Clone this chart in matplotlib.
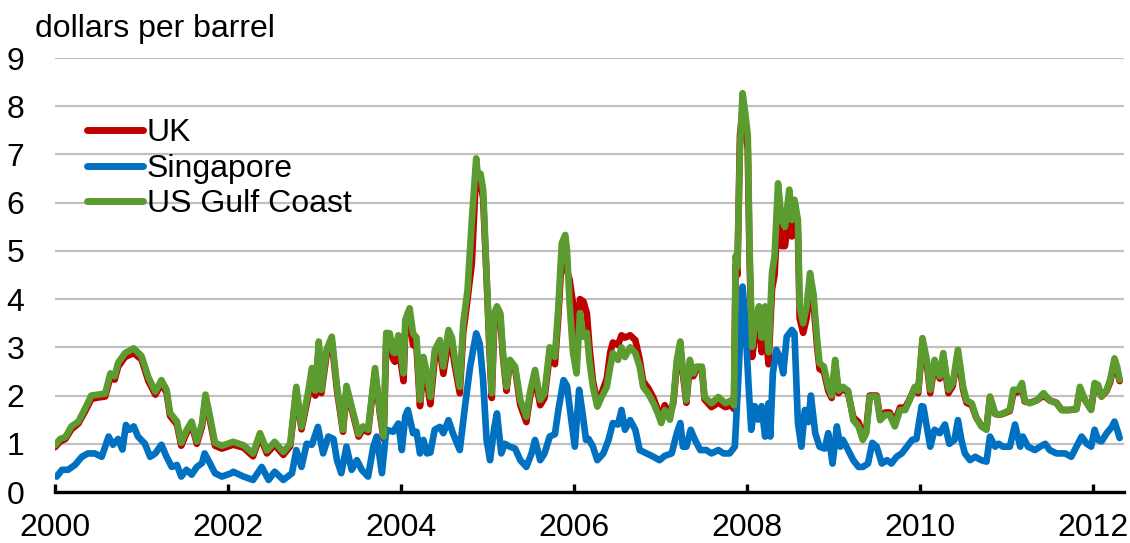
import matplotlib
matplotlib.use("Agg")
import matplotlib.pyplot as plt

plt.rcParams['font.family'] = ['Liberation Sans', 'DejaVu Sans']

# ---- data ----
gulf_dates = [
    2000.00, 2000.06, 2000.12, 2000.19, 2000.27, 2000.35, 2000.42, 2000.50, 2000.58, 2000.64,
    2000.69, 2000.73, 2000.81, 2000.91, 2001.00, 2001.08, 2001.16, 2001.23, 2001.29, 2001.33,
    2001.41, 2001.46, 2001.52, 2001.58, 2001.64, 2001.70, 2001.74, 2001.79, 2001.85, 2001.93,
    2002.06, 2002.18, 2002.29, 2002.37, 2002.45, 2002.54, 2002.64, 2002.72, 2002.79, 2002.85,
    2002.93, 2002.97, 2003.01, 2003.05, 2003.08, 2003.14, 2003.20, 2003.26, 2003.33, 2003.37,
    2003.45, 2003.51, 2003.56, 2003.62, 2003.70, 2003.76, 2003.80, 2003.83, 2003.87, 2003.91,
    2003.93, 2003.97, 2004.03, 2004.05, 2004.10, 2004.14, 2004.18, 2004.22, 2004.26, 2004.30,
    2004.34, 2004.39, 2004.45, 2004.49, 2004.55, 2004.59, 2004.62, 2004.68, 2004.72, 2004.77,
    2004.82, 2004.87, 2004.89, 2004.92, 2004.95, 2004.99, 2005.02, 2005.05, 2005.08, 2005.11,
    2005.15, 2005.18, 2005.22, 2005.26, 2005.32, 2005.38, 2005.45, 2005.49, 2005.55, 2005.61,
    2005.66, 2005.72, 2005.78, 2005.82, 2005.86, 2005.90, 2005.92, 2005.95, 2005.99, 2006.03,
    2006.07, 2006.11, 2006.15, 2006.18, 2006.22, 2006.27, 2006.32, 2006.38, 2006.42, 2006.45,
    2006.51, 2006.55, 2006.59, 2006.65, 2006.71, 2006.76, 2006.80, 2006.86, 2006.92, 2006.97,
    2007.01, 2007.05, 2007.11, 2007.15, 2007.19, 2007.23, 2007.26, 2007.30, 2007.34, 2007.38,
    2007.42, 2007.48, 2007.51, 2007.59, 2007.67, 2007.75, 2007.82, 2007.85, 2007.87, 2007.89,
    2007.92, 2007.95, 2007.98, 2008.01, 2008.03, 2008.06, 2008.10, 2008.14, 2008.17, 2008.21,
    2008.25, 2008.29, 2008.32, 2008.36, 2008.40, 2008.44, 2008.49, 2008.52, 2008.55, 2008.59,
    2008.61, 2008.65, 2008.69, 2008.73, 2008.77, 2008.81, 2008.84, 2008.89, 2008.94, 2008.98,
    2009.02, 2009.06, 2009.11, 2009.17, 2009.23, 2009.29, 2009.34, 2009.38, 2009.42, 2009.50,
    2009.54, 2009.60, 2009.65, 2009.71, 2009.77, 2009.83, 2009.88, 2009.94, 2009.98, 2010.03,
    2010.08, 2010.12, 2010.17, 2010.23, 2010.27, 2010.33, 2010.38, 2010.44, 2010.50, 2010.54,
    2010.60, 2010.65, 2010.71, 2010.77, 2010.81, 2010.87, 2010.91, 2010.96, 2011.04, 2011.08,
    2011.14, 2011.18, 2011.21, 2011.27, 2011.35, 2011.43, 2011.50, 2011.58, 2011.64, 2011.73,
    2011.81, 2011.85, 2011.91, 2011.98, 2012.02, 2012.06, 2012.10, 2012.16, 2012.20, 2012.25,
    2012.28, 2012.31,
]

us_gulf = [
    0.97, 1.10, 1.14, 1.36, 1.46, 1.74, 2.00, 2.02, 2.04, 2.46,
    2.40, 2.68, 2.88, 2.98, 2.82, 2.38, 2.08, 2.32, 2.12, 1.64,
    1.46, 1.02, 1.28, 1.46, 1.05, 1.42, 2.02, 1.58, 1.02, 0.96,
    1.04, 0.97, 0.80, 1.22, 0.86, 1.04, 0.83, 1.00, 2.18, 1.35,
    2.10, 2.57, 2.10, 3.12, 2.12, 2.95, 3.22, 2.20, 1.29, 2.20,
    1.63, 1.20, 1.36, 1.29, 2.57, 1.63, 1.15, 3.30, 3.29, 2.90,
    2.88, 3.25, 2.46, 3.57, 3.81, 3.29, 3.20, 1.91, 2.80, 2.46,
    1.97, 2.94, 3.15, 2.60, 3.36, 3.20, 2.80, 2.18, 3.50, 4.19,
    5.64, 6.92, 6.54, 6.60, 6.27, 4.54, 3.20, 2.05, 3.71, 3.85,
    3.70, 2.88, 2.18, 2.74, 2.60, 1.91, 1.56, 2.05, 2.53, 1.91,
    2.05, 3.00, 2.80, 3.84, 5.16, 5.33, 5.00, 3.90, 2.88, 2.46,
    3.71, 3.22, 3.30, 2.70, 2.18, 1.77, 1.97, 2.18, 2.60, 2.88,
    2.74, 3.00, 2.80, 3.00, 2.88, 2.60, 2.18, 2.04, 1.84, 1.63,
    1.43, 1.70, 1.50, 1.90, 2.74, 3.12, 2.53, 1.90, 2.74, 2.46,
    2.60, 2.60, 1.97, 1.84, 1.97, 1.84, 1.90, 1.80, 4.90, 4.67,
    7.16, 8.27, 7.86, 7.40, 5.10, 3.01, 3.57, 3.85, 3.20, 3.85,
    2.90, 4.54, 4.90, 6.40, 5.64, 5.50, 6.27, 5.64, 6.06, 5.64,
    3.85, 3.50, 3.85, 4.54, 4.10, 3.20, 2.67, 2.60, 2.18, 2.00,
    2.74, 2.10, 2.18, 2.10, 1.49, 1.36, 1.08, 1.22, 1.98, 1.98,
    1.49, 1.60, 1.60, 1.36, 1.70, 1.70, 1.90, 2.18, 2.10, 3.19,
    2.74, 2.12, 2.74, 2.40, 2.88, 2.12, 2.26, 2.95, 2.18, 1.90,
    1.84, 1.56, 1.36, 1.29, 1.98, 1.63, 1.60, 1.63, 1.70, 2.12,
    2.12, 2.26, 1.90, 1.84, 1.90, 2.05, 1.90, 1.84, 1.70, 1.70,
    1.72, 2.18, 1.90, 1.70, 2.26, 2.22, 1.98, 2.12, 2.33, 2.77,
    2.60, 2.33,
]

uk = [
    0.93, 1.05, 1.10, 1.30, 1.42, 1.68, 1.93, 1.96, 1.98, 2.38,
    2.33, 2.60, 2.80, 2.88, 2.75, 2.30, 2.02, 2.25, 2.06, 1.58,
    1.40, 0.96, 1.22, 1.40, 1.00, 1.36, 1.95, 1.50, 0.96, 0.90,
    0.98, 0.92, 0.74, 1.16, 0.80, 0.98, 0.77, 0.95, 2.10, 1.30,
    2.00, 2.45, 2.00, 3.00, 2.05, 2.85, 3.12, 2.12, 1.25, 2.12,
    1.58, 1.15, 1.30, 1.24, 2.50, 1.58, 1.10, 3.10, 3.05, 2.75,
    2.70, 3.05, 2.30, 3.35, 3.60, 3.05, 3.00, 1.78, 2.60, 2.30,
    1.82, 2.75, 2.95, 2.45, 3.15, 3.00, 2.65, 2.05, 3.30, 4.00,
    4.75, 6.70, 6.30, 6.40, 6.10, 4.45, 3.10, 1.95, 3.55, 3.70,
    3.55, 2.80, 2.10, 2.70, 2.55, 1.80, 1.45, 1.95, 2.40, 1.80,
    1.95, 2.85, 2.65, 3.65, 4.90, 5.05, 4.60, 4.40, 3.90, 3.10,
    4.00, 3.95, 3.70, 3.00, 2.30, 1.85, 2.05, 2.35, 2.90, 3.10,
    3.05, 3.25, 3.20, 3.25, 3.15, 2.75, 2.30, 2.15, 1.95, 1.70,
    1.55, 1.80, 1.60, 1.85, 2.65, 3.00, 2.45, 1.85, 2.65, 2.40,
    2.55, 2.55, 1.92, 1.76, 1.85, 1.76, 1.80, 1.72, 4.70, 4.50,
    7.40, 7.90, 7.60, 7.10, 4.90, 2.80, 3.30, 3.55, 2.90, 3.50,
    2.65, 4.20, 4.50, 5.90, 5.10, 5.10, 5.80, 5.30, 5.70, 5.40,
    3.60, 3.30, 3.60, 4.30, 3.90, 3.05, 2.55, 2.50, 2.10, 1.95,
    2.65, 2.05, 2.15, 2.05, 1.55, 1.45, 1.20, 1.30, 2.00, 2.00,
    1.55, 1.65, 1.65, 1.45, 1.75, 1.75, 1.92, 2.15, 2.05, 3.10,
    2.65, 2.05, 2.65, 2.35, 2.80, 2.05, 2.20, 2.85, 2.12, 1.85,
    1.80, 1.55, 1.38, 1.32, 1.95, 1.62, 1.60, 1.62, 1.68, 2.05,
    2.08, 2.20, 1.88, 1.85, 1.90, 2.00, 1.90, 1.85, 1.70, 1.70,
    1.72, 2.12, 1.90, 1.72, 2.20, 2.18, 1.98, 2.10, 2.28, 2.70,
    2.50, 2.30,
]

sing_dates = [
    2000.02, 2000.08, 2000.15, 2000.23, 2000.31, 2000.38, 2000.46, 2000.54, 2000.62, 2000.67,
    2000.73, 2000.78, 2000.82, 2000.86, 2000.91, 2000.96, 2001.04, 2001.10, 2001.16, 2001.23,
    2001.29, 2001.35, 2001.41, 2001.46, 2001.52, 2001.58, 2001.64, 2001.70, 2001.73, 2001.79,
    2001.85, 2001.93, 2002.04, 2002.06, 2002.18, 2002.29, 2002.39, 2002.47, 2002.54, 2002.64,
    2002.74, 2002.79, 2002.85, 2002.91, 2002.97, 2003.04, 2003.10, 2003.16, 2003.22, 2003.26,
    2003.31, 2003.37, 2003.43, 2003.49, 2003.55, 2003.62, 2003.68, 2003.72, 2003.78, 2003.83,
    2003.91, 2003.97, 2004.01, 2004.05, 2004.08, 2004.14, 2004.18, 2004.22, 2004.26, 2004.30,
    2004.34, 2004.39, 2004.45, 2004.49, 2004.55, 2004.60, 2004.68, 2004.74, 2004.80, 2004.87,
    2004.91, 2004.95, 2004.99, 2005.03, 2005.08, 2005.11, 2005.16, 2005.20, 2005.26, 2005.32,
    2005.38, 2005.45, 2005.51, 2005.55, 2005.61, 2005.66, 2005.72, 2005.78, 2005.82, 2005.88,
    2005.92, 2005.95, 2006.01, 2006.06, 2006.10, 2006.14, 2006.17, 2006.22, 2006.27, 2006.34,
    2006.40, 2006.45, 2006.51, 2006.55, 2006.59, 2006.65, 2006.71, 2006.76, 2006.84, 2006.92,
    2006.99, 2007.05, 2007.13, 2007.19, 2007.23, 2007.26, 2007.30, 2007.35, 2007.40, 2007.46,
    2007.53, 2007.59, 2007.67, 2007.73, 2007.80, 2007.86, 2007.90, 2007.95, 2007.98, 2008.02,
    2008.05, 2008.09, 2008.13, 2008.17, 2008.21, 2008.25, 2008.27, 2008.30, 2008.34, 2008.38,
    2008.42, 2008.46, 2008.52, 2008.55, 2008.59, 2008.63, 2008.67, 2008.71, 2008.74, 2008.79,
    2008.84, 2008.90, 2008.94, 2008.99, 2009.04, 2009.08, 2009.11, 2009.17, 2009.23, 2009.29,
    2009.34, 2009.40, 2009.45, 2009.50, 2009.56, 2009.62, 2009.67, 2009.73, 2009.79, 2009.85,
    2009.91, 2009.96, 2010.02, 2010.04, 2010.08, 2010.12, 2010.17, 2010.23, 2010.29, 2010.34,
    2010.40, 2010.44, 2010.48, 2010.52, 2010.58, 2010.64, 2010.71, 2010.77, 2010.81, 2010.87,
    2010.91, 2010.96, 2011.04, 2011.10, 2011.16, 2011.19, 2011.25, 2011.33, 2011.39, 2011.45,
    2011.50, 2011.58, 2011.68, 2011.75, 2011.81, 2011.87, 2011.93, 2011.98, 2012.02, 2012.06,
    2012.10, 2012.16, 2012.22, 2012.25, 2012.28, 2012.31,
]

singapore = [
    0.32, 0.46, 0.46, 0.56, 0.73, 0.80, 0.80, 0.73, 1.15, 0.98,
    1.10, 0.88, 1.39, 1.29, 1.36, 1.15, 1.00, 0.73, 0.80, 0.98,
    0.73, 0.52, 0.56, 0.32, 0.46, 0.36, 0.52, 0.60, 0.80, 0.60,
    0.39, 0.32, 0.39, 0.42, 0.32, 0.25, 0.52, 0.25, 0.42, 0.25,
    0.39, 0.87, 0.52, 1.00, 0.98, 1.35, 0.80, 1.15, 1.10, 0.66,
    0.39, 0.94, 0.46, 0.66, 0.45, 0.32, 0.94, 1.15, 0.39, 1.29,
    1.25, 1.42, 0.87, 1.57, 1.70, 1.22, 1.25, 0.80, 1.08, 0.80,
    0.82, 1.29, 1.35, 1.22, 1.49, 1.22, 0.87, 1.77, 2.60, 3.29,
    3.08, 2.32, 1.08, 0.66, 1.35, 1.63, 0.80, 1.00, 0.94, 0.90,
    0.66, 0.52, 0.80, 1.08, 0.66, 0.80, 1.15, 1.20, 1.70, 2.32,
    2.20, 1.77, 0.94, 2.12, 1.63, 1.08, 1.10, 0.94, 0.66, 0.80,
    1.08, 1.43, 1.40, 1.70, 1.29, 1.49, 1.29, 0.87, 0.80, 0.73,
    0.66, 0.75, 0.80, 1.22, 1.43, 0.94, 0.94, 1.29, 1.08, 0.87,
    0.87, 0.80, 0.87, 0.80, 0.80, 0.94, 2.32, 4.26, 3.57, 2.18,
    1.29, 1.78, 1.50, 1.78, 1.15, 1.84, 1.15, 2.46, 2.95, 2.80,
    2.46, 3.22, 3.36, 3.29, 1.43, 0.94, 1.70, 1.45, 2.00, 1.22,
    0.94, 0.90, 1.22, 0.59, 1.36, 0.94, 1.08, 0.87, 0.66, 0.52,
    0.52, 0.59, 1.02, 0.94, 0.59, 0.66, 0.59, 0.73, 0.80, 0.94,
    1.08, 1.10, 1.78, 1.77, 1.35, 0.94, 1.29, 1.22, 1.40, 1.00,
    1.08, 1.49, 1.08, 0.80, 0.66, 0.73, 0.66, 0.63, 1.15, 0.94,
    1.00, 0.94, 0.94, 1.40, 0.94, 1.15, 0.94, 0.87, 0.94, 1.00,
    0.87, 0.80, 0.80, 0.73, 0.94, 1.15, 1.00, 0.94, 1.29, 1.08,
    1.05, 1.22, 1.35, 1.46, 1.30, 1.12,
]

series_names = ["UK", "Singapore", "US Gulf Coast"]
series_colors = ["#C00000", "#0070C0", "#5B9B30"]
year_ticks = [2000, 2002, 2004, 2006, 2008, 2010, 2012]
y_ticks = [0, 1, 2, 3, 4, 5, 6, 7, 8, 9]
y_title = "dollars per barrel"

# ---- figure ----
W, H = 1130, 543
fig = plt.figure(figsize=(W / 100, H / 100), dpi=100)
ax = fig.add_axes([55 / W, 1 - 492 / H, (1124 - 55) / W, (492 - 58) / H])

lw = 4.8
ax.plot(gulf_dates, uk, color=series_colors[0], lw=lw, label=series_names[0],
        solid_capstyle='round', solid_joinstyle='round', zorder=3)
ax.plot(sing_dates, singapore, color=series_colors[1], lw=lw, label=series_names[1],
        solid_capstyle='round', solid_joinstyle='round', zorder=4)
ax.plot(gulf_dates, us_gulf, color=series_colors[2], lw=lw, label=series_names[2],
        solid_capstyle='round', solid_joinstyle='round', zorder=5)

ax.set_xlim(2000, 2012.36)
ax.set_ylim(0, 9)
ax.set_yticks(y_ticks)
ax.set_xticks(year_ticks)
ax.set_xticklabels([str(y) for y in year_ticks])

ax.grid(axis='y', color='#C0C0C0', lw=1.6, zorder=0)
ax.set_axisbelow(True)
for s in ['top', 'right', 'left']:
    ax.spines[s].set_visible(False)
ax.spines['bottom'].set_linewidth(2.4)
ax.spines['bottom'].set_color('black')
ax.spines['bottom'].set_zorder(6)

fs = 23
ax.tick_params(axis='y', length=0, pad=22, labelsize=fs)
ax.tick_params(axis='x', direction='in', length=6, width=2.4, pad=15, labelsize=fs)

fig.text(35 / W, 1 - 37 / H, y_title, fontsize=fs, ha='left', va='baseline')

leg = ax.legend(loc='upper left', bbox_to_anchor=(0.030, 0.861), frameon=False,
                fontsize=fs, handlelength=1.75, handletextpad=0.12,
                labelspacing=0.17, borderpad=0, borderaxespad=0)
for h in leg.get_lines():
    h.set_linewidth(5)
    h.set_solid_capstyle('round')

fig.savefig("out.png", dpi=100)
